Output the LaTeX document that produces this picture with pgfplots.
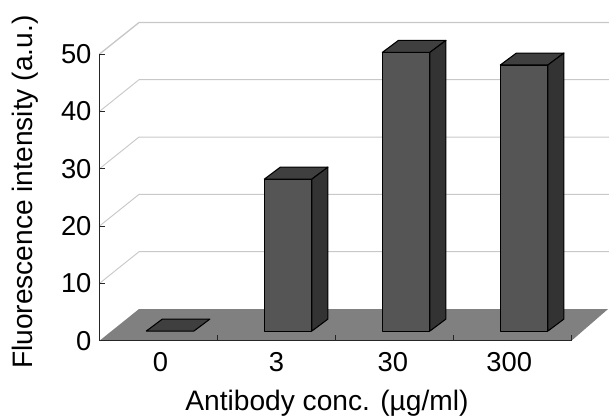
\documentclass[border=0pt]{standalone}
\usepackage{pgfplots}
\pgfplotsset{compat=1.18}
\usepackage{fontspec}
\setmainfont{Liberation Sans}
\definecolor{floorc}{HTML}{808080}
\definecolor{gridc}{HTML}{C8C8C8}
\definecolor{frontc}{HTML}{555555}
\definecolor{topc}{HTML}{3F3F3F}
\definecolor{sidec}{HTML}{333333}
\begin{document}
\begin{tikzpicture}
\path[use as bounding box] (-74.6pt,-55.7pt) rectangle ++(456.75pt,311.25pt);
\begin{axis}[
  scale only axis,
  width=354pt,
  height=215pt,
  xmin=0, xmax=4,
  ymin=0, ymax=50,
  clip=false,
  axis on top,
  axis lines=left,
  axis line style={-,black!85,line width=0.75pt},
  xtick={0.517,1.5,2.487,3.473},
  xticklabels={0,3,30,300},
  xtick style={draw=none},
  extra x ticks={1,2,3,4},
  extra x tick labels={},
  extra x tick style={xtick style={draw=black!85,line width=0.7pt},tick align=inside},
  ytick={0,10,20,30,40,50},
  ytick style={draw=black!85,line width=0.7pt},
  tick align=inside,
  major tick length=4pt,
  /pgf/number format/assume math mode=true,
  tick label style={font=\fontsize{20.5}{24}\selectfont},
  label style={font=\fontsize{21.1}{25}\selectfont},
  xticklabel style={yshift=-5pt},
  yticklabel style={xshift=-2.5pt},
  xlabel={Antibody conc. (µg/ml)},
  ylabel={Fluorescence intensity (a.u.)},
  xlabel style={at={(axis description cs:0.482,-0.219)},anchor=center},
  ylabel style={at={(axis description cs:-0.158,0.518)},anchor=center},
  every axis plot/.append style={line join=round},
]
% back wall lines
\addplot[gridc,line width=0.7pt] coordinates {(0,10) (0.335,15.53) (4.32,15.53)};
\addplot[gridc,line width=0.7pt] coordinates {(0,20) (0.335,25.53) (4.32,25.53)};
\addplot[gridc,line width=0.7pt] coordinates {(0,30) (0.335,35.53) (4.32,35.53)};
\addplot[gridc,line width=0.7pt] coordinates {(0,40) (0.335,45.53) (4.32,45.53)};
\addplot[gridc,line width=1pt] coordinates {(0,50) (0.335,55.5) (4.32,55.5)};
% floor
\addplot[draw=none,fill=floorc] coordinates {(0,0) (4,0) (4.31,5.53) (0.335,5.53)} --cycle;
% bar 0
\addplot[draw=black,line width=0.8pt,fill=topc] coordinates {(0.397,1.69) (0.80,1.69) (0.936,3.78) (0.533,3.78)} --cycle;
% bar 3
\addplot[draw=black,line width=0.8pt,fill=frontc] coordinates {(1.397,1.69) (1.80,1.69) (1.80,28.19) (1.397,28.19)} --cycle;
\addplot[draw=black,line width=0.8pt,fill=topc] coordinates {(1.397,28.19) (1.80,28.19) (1.936,30.28) (1.533,30.28)} --cycle;
\addplot[draw=black,line width=0.8pt,fill=sidec] coordinates {(1.80,1.69) (1.936,3.78) (1.936,30.28) (1.80,28.19)} --cycle;
% bar 30
\addplot[draw=black,line width=0.8pt,fill=frontc] coordinates {(2.397,1.69) (2.80,1.69) (2.80,50.29) (2.397,50.29)} --cycle;
\addplot[draw=black,line width=0.8pt,fill=topc] coordinates {(2.397,50.29) (2.80,50.29) (2.936,52.38) (2.533,52.38)} --cycle;
\addplot[draw=black,line width=0.8pt,fill=sidec] coordinates {(2.80,1.69) (2.936,3.78) (2.936,52.38) (2.80,50.29)} --cycle;
% bar 300
\addplot[draw=black,line width=0.8pt,fill=frontc] coordinates {(3.397,1.69) (3.80,1.69) (3.80,48.09) (3.397,48.09)} --cycle;
\addplot[draw=black,line width=0.8pt,fill=topc] coordinates {(3.397,48.09) (3.80,48.09) (3.936,50.18) (3.533,50.18)} --cycle;
\addplot[draw=black,line width=0.8pt,fill=sidec] coordinates {(3.80,1.69) (3.936,3.78) (3.936,50.18) (3.80,48.09)} --cycle;
\end{axis}
\end{tikzpicture}
\end{document}
